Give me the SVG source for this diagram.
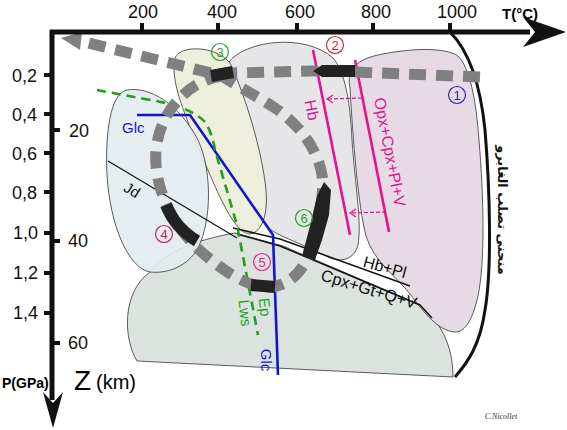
<svg xmlns="http://www.w3.org/2000/svg" width="567" height="430" viewBox="0 0 567 430">
<style>
.reg{stroke:#333;stroke-width:0.8}
.t{font-family:"Liberation Sans",Arial,sans-serif}
.ax{font-family:"Liberation Sans",Arial,sans-serif;font-size:18px;fill:#111}
.gp{fill:none;stroke:#808080;stroke-width:11;stroke-dasharray:17 10}
.blk{fill:none;stroke:#222;stroke-width:12}
.tk{stroke:#111;stroke-width:4}
.num{fill:#fff;fill-opacity:0;stroke-width:1.2}
.mg{stroke:#e4148c;stroke-width:2.6}
.mgd{fill:none;stroke:#e4148c;stroke-width:1.2;stroke-dasharray:4 2}
.bl{fill:none;stroke:#1414d0;stroke-width:2.6}
.gr{fill:none;stroke:#1ea01e;stroke-width:2.6;stroke-dasharray:9 6}
</style>
<rect width="567" height="430" fill="#fff"/>

<g id="field-5" class="reg">
<path d="M150,272 C165,252 195,240 235,233 L283,246 L418,304 C440,320 453,345 453,377 L137,361 C123,338 122,292 150,272 Z" fill="#dce3de"/>
</g>
<g id="field-6" class="reg">
<path d="M228,63 C245,40 305,33 333,58 C345,72 350,100 352,140 C355,185 362,222 358,245 C354,260 340,263 328,257 C310,248 295,242 282,236 C268,230 262,222 260,212 C255,170 245,110 228,63 Z" fill="#e6e6e9"/>
</g>
<g id="field-1" class="reg">
<path d="M350,88 C346,70 356,60 378,55 C410,48 445,47 458,56 C470,68 476,100 479,140 C484,200 485,262 478,296 C472,322 464,333 454,332 C438,330 425,314 410,294 C396,276 374,262 366,236 C358,205 353,140 350,88 Z" fill="#e6dbe4"/>
</g>
<g id="field-3" class="reg">
<path d="M175,58 C180,45 215,45 230,63 C245,95 262,150 266,190 C268,215 262,232 250,234 C238,234 225,210 210,175 C195,140 180,105 176,85 C174,75 173,65 175,58 Z" fill="#eeeedc"/>
</g>
<g id="field-4" class="reg">
<path d="M127,90 C150,86 180,105 198,140 C212,170 212,220 198,248 C188,266 168,274 150,272 C128,268 110,225 107,175 C105,135 110,93 127,90 Z" fill="#e3ebef" fill-opacity="0.9"/>
</g>

<g id="solidus">
<path d="M450,32 C468,50 480,80 485,130 C490,190 492,270 485,310 C480,345 468,362 455,377" fill="none" stroke="#111" stroke-width="3"/>
<text transform="translate(503,210) rotate(90)" text-anchor="middle" dy="0.35em" font-family="DejaVu Sans,sans-serif" font-size="13" font-weight="bold" fill="#111">منحنى تصلب الغابرو</text>
</g>

<g id="connectors">
<path d="M108,161 L237,238" fill="none" stroke="#111" stroke-width="1.2"/>
<path d="M233,228 L280,239 L410,286" fill="none" stroke="#111" stroke-width="1.5"/>
<path d="M237,234 L280,246 L420,305 L432,318" fill="none" stroke="#111" stroke-width="1.5"/>
<line class="mg" x1="313" y1="50" x2="350" y2="235"/>
<line class="mg" x1="355" y1="60" x2="389" y2="232"/>
<line class="mgd" x1="362" y1="98" x2="328" y2="99"/>
<polyline class="mgd" style="stroke-dasharray:none" points="333,95 327,99 333,103"/>
<line class="mgd" x1="386" y1="212" x2="351" y2="213"/>
<polyline class="mgd" style="stroke-dasharray:none" points="356,209 350,213 356,217"/>
<polyline class="bl" points="137,115 190,115 273,235 278,375"/>
<path class="gr" d="M97,90 L145,99 Q190,106 205,122 Q212,132 215,150 L237,225 L258,335"/>
<path class="gp" d="M480,77 L355,72 L313,71 L232,73 L215,74 L80,41"/>
<polygon points="61,38 82,32 80,50" fill="#808080"/>
<path class="gp" d="M222,76 C190,80 160,110 156,150 C153,190 175,230 205,255 C225,272 245,285 265,287 C290,288 305,270 312,245 C318,220 325,195 322,175 C318,150 300,125 275,108 C255,95 235,85 222,76 Z"/>
<polygon points="313,71 322,65 355,65 355,77 322,77" fill="#222"/>
<polygon points="210,70 232,66 234,78 212,82" fill="#222"/>
<path class="blk" d="M166,205 C172,220 182,232 197,241"/>
<path class="blk" d="M251,285 L275,287"/>
<polygon points="302,256 310,226 317,196 324,182 331,190 329,215 322,240 315,260" fill="#222"/>
</g>

<g id="axes">
<line x1="50" y1="32" x2="530" y2="32" stroke="#111" stroke-width="5"/>
<polygon points="566,32 523,17 535,32 523,47" fill="#111"/>
<line x1="52" y1="30" x2="52" y2="400" stroke="#111" stroke-width="5"/>
<polygon points="53,428 43,392 53,403 63,392" fill="#111"/>
<line class="tk" x1="142" y1="23" x2="142" y2="32"/>
<line class="tk" x1="218" y1="23" x2="218" y2="32"/>
<line class="tk" x1="297" y1="23" x2="297" y2="32"/>
<line class="tk" x1="373" y1="23" x2="373" y2="32"/>
<line class="tk" x1="450" y1="23" x2="450" y2="32"/>
<g class="ax" text-anchor="middle">
<text x="143" y="18">200</text><text x="222" y="18">400</text><text x="300" y="18">600</text><text x="376" y="18">800</text><text x="457" y="18">1000</text>
</g>
<text x="502" y="19" class="t" font-size="15" font-weight="bold">T(°C)</text>
<line class="tk" x1="44" y1="75" x2="52" y2="75"/>
<line class="tk" x1="44" y1="114" x2="52" y2="114"/>
<line class="tk" x1="44" y1="153" x2="52" y2="153"/>
<line class="tk" x1="44" y1="192" x2="52" y2="192"/>
<line class="tk" x1="44" y1="233" x2="52" y2="233"/>
<line class="tk" x1="44" y1="273" x2="52" y2="273"/>
<line class="tk" x1="44" y1="313" x2="52" y2="313"/>
<g class="ax" text-anchor="end">
<text x="37" y="82">0,2</text><text x="37" y="121">0,4</text><text x="37" y="160">0,6</text><text x="37" y="199">0,8</text><text x="38" y="239">1,0</text><text x="38" y="279">1,2</text><text x="38" y="319">1,4</text>
</g>
<line class="tk" x1="52" y1="130" x2="60" y2="130"/>
<line class="tk" x1="52" y1="241" x2="60" y2="241"/>
<line class="tk" x1="52" y1="343" x2="60" y2="343"/>
<g class="ax"><text x="69" y="137">20</text><text x="68" y="247">40</text><text x="68" y="349">60</text></g>
<text x="2" y="388" class="t" font-size="14" font-weight="bold">P(GPa)</text>
<text x="74" y="390" class="t" font-size="28">Z</text>
<text x="96" y="389" class="t" font-size="20">(km)</text>
</g>

<g id="labels" class="t">
<text x="122" y="133" font-size="15" fill="#1414d0">Glc</text>
<text transform="translate(266,360) rotate(90)" text-anchor="middle" dy="0.35em" font-size="15" fill="#1414d0">Glc</text>
<text transform="translate(265,307) rotate(84)" text-anchor="middle" dy="0.35em" font-size="15" fill="#1ea01e">Ep</text>
<text transform="translate(245,313) rotate(84)" text-anchor="middle" dy="0.35em" font-size="15" fill="#1ea01e">Lws</text>
<text transform="translate(132,190) rotate(31)" text-anchor="middle" dy="0.35em" font-size="15" fill="#111">Jd</text>
<text transform="translate(312,110) rotate(79)" text-anchor="middle" dy="0.35em" font-size="16" fill="#e4148c">Hb</text>
<text transform="translate(390,152) rotate(79)" text-anchor="middle" dy="0.35em" font-size="16" fill="#e4148c">Opx+Cpx+Pl+V</text>
<text transform="translate(385,267) rotate(15)" text-anchor="middle" dy="0.35em" font-size="16" fill="#111">Hb+Pl</text>
<text transform="translate(369,289) rotate(17)" text-anchor="middle" dy="0.35em" font-size="16.5" fill="#111">Cpx+Gt+Q+V</text>
<text x="501" y="419" text-anchor="middle" font-family="Liberation Serif,serif" font-style="italic" font-size="8" fill="#333">C.Nicollet</text>
</g>

<g id="n1"><circle class="num" cx="457" cy="95" r="8.5" stroke="#2a2aa8"/><text class="t" x="457" y="100" text-anchor="middle" font-size="13" fill="#2a2aa8">1</text></g>
<g id="n2"><circle class="num" cx="335" cy="45" r="8.5" stroke="#e02020"/><text class="t" x="335" y="50" text-anchor="middle" font-size="13" fill="#e02020">2</text></g>
<g id="n3"><circle class="num" cx="220" cy="52" r="8.5" stroke="#22a022"/><text class="t" x="220" y="57" text-anchor="middle" font-size="13" fill="#22a022">3</text></g>
<g id="n4"><circle class="num" cx="164" cy="234" r="8.5" stroke="#c0205a"/><text class="t" x="164" y="239" text-anchor="middle" font-size="13" fill="#c0205a">4</text></g>
<g id="n5"><circle class="num" cx="262" cy="262" r="8.5" stroke="#e0208a"/><text class="t" x="262" y="267" text-anchor="middle" font-size="13" fill="#e0208a">5</text></g>
<g id="n6"><circle class="num" cx="304" cy="218" r="8.5" stroke="#22a022"/><text class="t" x="304" y="223" text-anchor="middle" font-size="13" fill="#22a022">6</text></g>
</svg>
